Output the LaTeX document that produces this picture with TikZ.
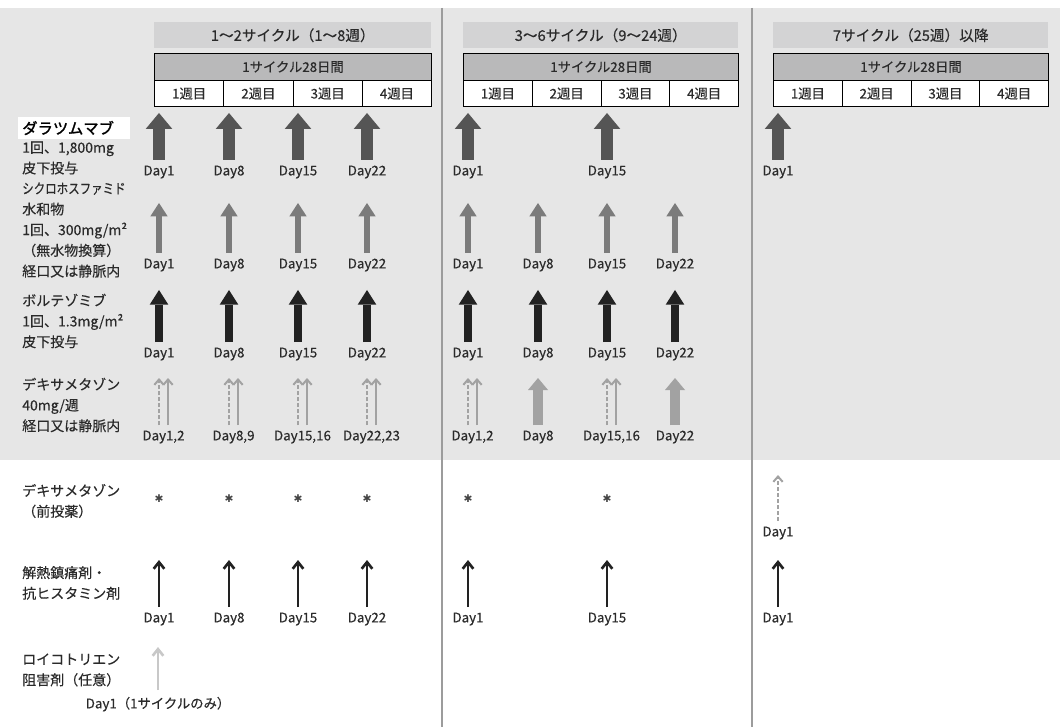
\documentclass[tikz,border=0pt]{standalone}
\usepackage{fontspec}
\usepackage{graphicx}
\setmainfont{Noto Sans CJK JP}[FakeBold=0.3]
\newfontfamily\namefont{Noto Sans CJK JP}[FakeBold=1.6]
\newfontfamily\markfont{DejaVu Sans}
\usepackage{xcolor}
\definecolor{panelgray}{HTML}{E6E6E6}
\definecolor{titlegray}{HTML}{D3D3D4}
\definecolor{cyclegray}{HTML}{B9B9BA}
\definecolor{sepgray}{HTML}{9C9C9C}
\definecolor{labeltext}{HTML}{2A2A2A}
\definecolor{daragray}{HTML}{555555}
\definecolor{cyclogray}{HTML}{7B7B7B}
\definecolor{bortblack}{HTML}{222222}
\definecolor{dexgray}{HTML}{A2A2A2}
\definecolor{leukogray}{HTML}{C8C8C8}
\usetikzlibrary{arrows.meta,positioning}

\begin{document}
\begin{tikzpicture}[x=0.75pt, y=-0.75pt,
    every node/.style={font=\fontsize{10.5}{15.5}\selectfont, text=labeltext, inner sep=0pt},
    titlebox/.style={fill=titlegray, anchor=north west, minimum height=26*0.75pt, font=\fontsize{11}{13}\selectfont},
    cyclebox/.style={draw=black, line width=0.8pt, fill=cyclegray, anchor=north west, minimum height=27*0.75pt, font=\fontsize{10}{12}\selectfont},
    weekcell/.style={draw=black, line width=0.8pt, fill=white, anchor=north west, minimum height=26*0.75pt, font=\fontsize{10}{12}\selectfont},
    drugname/.style={anchor=west, fill=white, text=black, inner xsep=3pt, align=left, text width=104*0.75pt, minimum height=22*0.75pt, font=\fontsize{11.5}{14}\selectfont\namefont},
    druglabel/.style={anchor=west, align=left},
    daylabel/.style={font=\fontsize{10}{12}\selectfont},
    starmark/.style={font=\fontsize{8}{9}\selectfont\markfont, text=daragray!80!black},
    daraarrow/.style={draw=daragray, line width=9pt, -{Triangle[width=20pt, length=12pt, line width=0pt]}},
    cycloarrow/.style={draw=cyclogray, line width=5pt, -{Triangle[width=13pt, length=10pt, line width=0pt]}},
    bortarrow/.style={draw=bortblack, line width=6pt, -{Triangle[width=14pt, length=11pt, line width=0pt]}},
    dexarrow/.style={draw=dexgray, line width=8pt, -{Triangle[width=15pt, length=9pt, line width=0pt]}},
    dexline/.style={draw=dexgray, line width=1.5pt, -{Straight Barb[width=7pt, length=4pt]}},
    dexdash/.style={dexline, dash pattern=on 3pt off 1.5pt},
    premedarrow/.style={draw=bortblack, line width=2pt, -{Straight Barb[width=8pt, length=5pt]}},
    leukoarrow/.style={premedarrow, draw=leukogray}]
    \useasboundingbox (0,0) rectangle (1060,727);

    % Panels
    \fill[panelgray] (0,8) rectangle (1060,460);
    \draw[sepgray, line width=1.2pt] (442,8) -- (442,727);
    \draw[sepgray, line width=1.2pt] (752,8) -- (752,727);

    % Cycle headers
    \foreach \n/\xa/\w/\ttl in {1/154/277/{1～2サイクル（1～8週）}, 2/463/275/{3～6サイクル（9～24週）}, 3/773/275/{7サイクル（25週）以降}} {
        \node[titlebox, minimum width=\w*0.75pt] (title\n) at (\xa,22) {\ttl};
        \node[cyclebox, minimum width=\w*0.75pt] (days\n) at (\xa,53) {1サイクル28日間};
        \foreach \k in {1,...,4}
            \node[weekcell, minimum width=\w*0.1875pt] (week\n\k) at ({\xa+(\k-1)*\w/4},80) {{\k}週目};
    }

    % Drug names
    \node[drugname] (daraname) at (18,128) {ダラツムマブ};
    \node[druglabel] (daradose) at (22,158) {1回、1,800mg\\皮下投与};
    \node[druglabel] (cyclodose) at (22,230) {\scalebox{0.82}[1]{シクロホスファミド}\\水和物\\1回、300mg/m²\\（無水物換算）\\経口又は静脈内};
    \node[druglabel] (bortdose) at (22,321) {ボルテゾミブ\\1回、1.3mg/m²\\皮下投与};
    \node[druglabel] (dexdose) at (22,405) {デキサメタゾン\\40mg/週\\経口又は静脈内};
    \node[druglabel] (premedname) at (22,501) {デキサメタゾン\\（前投薬）};
    \node[druglabel] (antiname) at (22,583) {解熱鎮痛剤・\\抗ヒスタミン剤};
    \node[druglabel] (leukoname) at (22,670) {ロイコトリエン\\阻害剤（任意）};

    % Daratumumab
    \foreach \x/\d in {159/1,229/8,298/15,367/22,468/1,607/15,778/1} {
        \coordinate (darabase\x) at (\x,160);
        \coordinate (daratip\x) at (\x,113);
        \path[daraarrow] (darabase\x) -- (daratip\x);
        \node[daylabel, below=4pt of darabase\x] (daraday\x) {Day\d};
    }

    % Cyclophosphamide
    \foreach \x/\d in {159/1,229/8,298/15,367/22,468/1,538/8,607/15,675/22} {
        \coordinate (cyclobase\x) at (\x,253);
        \coordinate (cyclotip\x) at (\x,203);
        \path[cycloarrow] (cyclobase\x) -- (cyclotip\x);
        \node[daylabel, below=4pt of cyclobase\x] (cycloday\x) {Day\d};
    }

    % Bortezomib
    \foreach \x/\d in {159/1,229/8,298/15,367/22,468/1,538/8,607/15,675/22} {
        \coordinate (bortbase\x) at (\x,342);
        \coordinate (borttip\x) at (\x,290);
        \path[bortarrow] (bortbase\x) -- (borttip\x);
        \node[daylabel, below=4pt of bortbase\x] (bortday\x) {Day\d};
    }

    % Dexamethasone, two days
    \foreach \x/\d in {159/{1,2},229/{8,9},298/{15,16},367/{22,23},468/{1,2},607/{15,16}} {
        \coordinate (dexbase\x) at (\x,425);
        \coordinate (dextip\x) at (\x,378);
        \coordinate (dexbaseb\x) at (\x+9,425);
        \coordinate (dextipb\x) at (\x+9,378);
        \coordinate (dexmid\x) at (\x+4.5,425);
        \path[dexdash] (dexbase\x) -- (dextip\x);
        \path[dexline] (dexbaseb\x) -- (dextipb\x);
        \node[daylabel, below=4pt of dexmid\x] (dexday\x) {Day\d};
    }
    % Dexamethasone, one day
    \foreach \x/\d in {538/8,675/22} {
        \coordinate (dexbase\x) at (\x,425);
        \coordinate (dextip\x) at (\x,378);
        \path[dexarrow] (dexbase\x) -- (dextip\x);
        \node[daylabel, below=4pt of dexbase\x] (dexday\x) {Day\d};
    }

    % Premedication
    \foreach \x in {159,229,298,367,468,607}
        \node[starmark] (star\x) at (\x,499) {✱};
    \coordinate (premedbase) at (778,521);
    \coordinate (premedtip) at (778,475);
    \path[dexdash] (premedbase) -- (premedtip);
    \node[daylabel, below=4pt of premedbase] (premedday) {Day1};

    \foreach \x/\d in {159/1,229/8,298/15,367/22,468/1,607/15,778/1} {
        \coordinate (antibase\x) at (\x,607);
        \coordinate (antitip\x) at (\x,560);
        \path[premedarrow] (antibase\x) -- (antitip\x);
        \node[daylabel, below=4pt of antibase\x] (antiday\x) {Day\d};
    }

    \coordinate (leukobase) at (158,690);
    \coordinate (leukotip) at (158,647);
    \path[leukoarrow] (leukobase) -- (leukotip);
    \node[daylabel, below=5pt of leukobase] (leukoday) {Day1（1サイクルのみ）};
\end{tikzpicture}
\end{document}
